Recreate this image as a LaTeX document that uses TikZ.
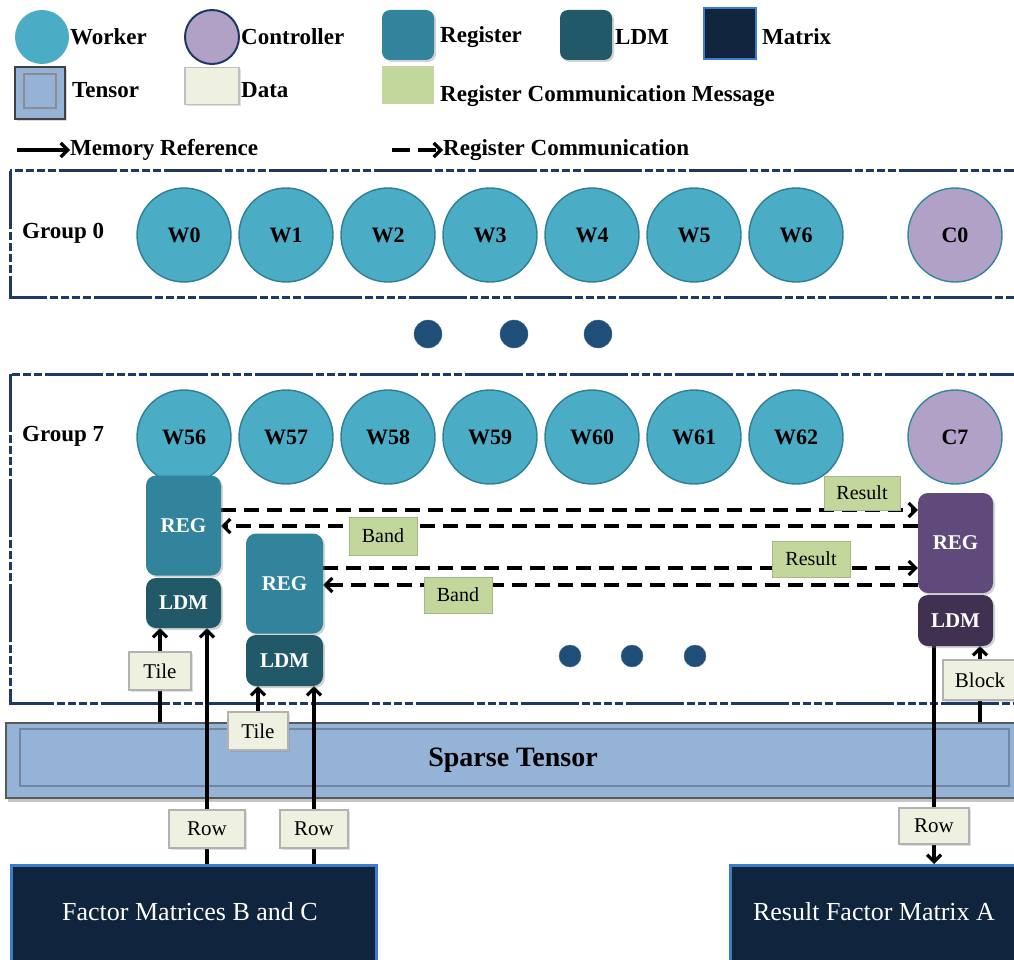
\documentclass[tikz,border=0pt]{standalone}
\usepackage{fontspec}
\setmainfont{Liberation Serif}
\usetikzlibrary{arrows.meta,shadows,backgrounds}
\newcommand\fsz[1]{\fontsize{#1}{#1}\selectfont}
\definecolor{wfill}{HTML}{4BACC6}
\definecolor{wline}{HTML}{2E7F93}
\definecolor{cfill}{HTML}{B2A1C7}
\definecolor{cline}{HTML}{31859C}
\definecolor{regc}{HTML}{31849B}
\definecolor{ldmc}{HTML}{215968}
\definecolor{pregc}{HTML}{604A7B}
\definecolor{pldmc}{HTML}{403152}
\definecolor{msgc}{HTML}{C3D69B}
\definecolor{datac}{HTML}{EEF1E0}
\definecolor{datad}{HTML}{8E9080}
\definecolor{matc}{HTML}{10243E}
\definecolor{matline}{HTML}{3D7DC8}
\definecolor{tensc}{HTML}{95B3D7}
\definecolor{grpc}{HTML}{1F3864}
\definecolor{dotc}{HTML}{1F4E79}
\pgfdeclarehorizontalshading{datash}{100bp}{color(0bp)=(datad); color(10bp)=(datac); color(94bp)=(datac); color(100bp)=(datac!85!black)}
\pgfdeclarelayer{back}
\pgfdeclarelayer{mid}
\pgfsetlayers{back,mid,main}
\tikzset{
  worker/.style={circle, fill=wfill, draw=wline, line width=1.4pt, minimum size=94pt, inner sep=0pt, font=\fsz{22}\bfseries},
  ctrl/.style={worker, fill=cfill, draw=cline},
  regbox/.style={rounded corners=10pt, fill=regc, text=white, minimum width=75pt, minimum height=100pt, inner sep=0pt, font=\fsz{21}\bfseries, drop shadow={opacity=0.35, shadow xshift=2pt, shadow yshift=-2pt}},
  ldmbox/.style={regbox, fill=ldmc, minimum height=50pt},
  msgbox/.style={fill=msgc, draw=msgc!85!black, line width=0.6pt, inner sep=0pt, font=\fsz{20}},
  databox/.style={shading=datash, draw=gray!60, line width=1.4pt, inner sep=0pt, minimum height=36pt, font=\fsz{21},
    drop shadow={opacity=0.25, shadow xshift=1.5pt, shadow yshift=-1.5pt}},
  matbox/.style={fill=matc, draw=matline, line width=2.5pt, text=white, inner sep=0pt, font=\fsz{26}},
  grpbox/.style={draw=grpc, line width=3pt, dash pattern=on 58pt off 3pt on 8pt off 3pt on 8pt off 3pt on 8pt off 3pt on 8pt off 3pt},
  lbl/.style={anchor=west, inner sep=0pt, font=\fsz{23}\bfseries},
  arr/.style={line width=3.2pt, -{Straight Barb[length=7pt,width=14pt]}},
  darr/.style={arr, dash pattern=on 15pt off 8pt},
  dot/.style={circle, fill=dotc, draw=dotc!80!white, inner sep=0pt},
}
\begin{document}
\begin{tikzpicture}[x=1pt,y=-1pt]
\useasboundingbox (0,0) rectangle (1014,960);
\clip (0,0) rectangle (1014,960);

% ---------- Legend ----------
\node[worker, minimum size=54pt, draw=none] (lw) at (42,37) {};
\node[lbl] (lwt) at (70,37) {Worker};
\node[ctrl, minimum size=54pt, draw=grpc, line width=2pt] (lc) at (212,37) {};
\node[lbl] (lct) at (241,37) {Controller};
\node[regbox, minimum width=52pt, minimum height=50pt, rounded corners=8pt] (lr) at (408,35) {};
\node[lbl] (lrt) at (440,37) {Register};
\node[ldmbox, minimum width=52pt, minimum height=50pt, rounded corners=8pt] (ll) at (586,35) {};
\node[lbl] (llt) at (615,37) {LDM};
\node[matbox, minimum width=52pt, minimum height=51pt, line width=2pt] (lm) at (730,34) {};
\node[lbl] (lmt) at (762,37) {Matrix};

\node[fill=tensc, draw=black!75, line width=1.6pt, minimum width=50pt, minimum height=52pt, inner sep=0pt, drop shadow={opacity=0.3, shadow xshift=1.5pt, shadow yshift=-2pt}] (lt) at (40,93) {};
\node[draw=black!45, line width=1.2pt, minimum width=32pt, minimum height=34pt, inner sep=0pt] (lti) at (40,91) {};
\node[lbl] (ltt) at (72,90) {Tensor};
\node[databox, minimum width=54pt, minimum height=37pt, draw=gray!50] (ld) at (212,86) {};
\node[lbl] (ldt) at (241,90) {Data};
\node[msgbox, draw=none, minimum width=52pt, minimum height=38pt] (lg) at (408,85) {};
\node[lbl] (lgt) at (440,96) {Register Communication Message};

\coordinate (ma) at (17,150);
\coordinate (mb) at (70,150);
\draw[arr] (ma) -- (mb);
\node[lbl] (mrt) at (70,150) {Memory Reference};
\coordinate (ra) at (392,150);
\coordinate (rb) at (443,150);
\draw[arr, dash pattern=on 18pt off 8pt] (ra) -- (rb);
\node[lbl] (rct) at (443,150) {Register Communication};

% ---------- Group boxes, tensor ----------
\begin{pgfonlayer}{back}
\draw[grpbox] (10,171) rectangle (1040,297);
\draw[grpbox] (10,374) rectangle (1040,703);
\node[fill=tensc, draw=black!65, line width=2pt, minimum width=1030pt, minimum height=75pt, inner sep=0pt, anchor=north west, drop shadow={opacity=0.45, shadow xshift=2pt, shadow yshift=-4pt}] (tensor) at (5,722) {};
\draw[draw=tensc!75!black, line width=1.4pt] (20,729) rectangle (1009,786);
\node[font=\fsz{28}\bfseries, inner sep=0pt] (tenst) at (513,760) {Sparse Tensor};
\end{pgfonlayer}

\node[lbl, font=\fsz{23}\bfseries] (g0) at (22,233) {Group 0};
\node[lbl, font=\fsz{23}\bfseries] (g7) at (22,436) {Group 7};

% workers group 0
\foreach \i/\x in {0/184,1/286,2/388,3/490,4/592,5/694,6/796}{
  \node[worker] (w\i) at (\x,235) {W\i};
}
\node[ctrl] (c0) at (955,235) {C0};

% dots
\node[dot, minimum size=28pt] (d1) at (428,334) {};
\node[dot, minimum size=28pt] (d2) at (514,334) {};
\node[dot, minimum size=28pt] (d3) at (598,334) {};

% workers group 7
\foreach \i/\x in {56/184,57/286,58/388,59/490,60/592,61/694,62/796}{
  \node[worker] (w\i) at (\x,437) {W\i};
}
\node[ctrl] (c7) at (955,437) {C7};

% REG / LDM
\node[regbox] (reg1) at (183.5,525.5) {REG};
\node[ldmbox] (ldm1) at (183.5,603) {LDM};
\node[regbox, minimum width=77pt] (reg2) at (284.5,583.5) {REG};
\node[ldmbox, minimum width=77pt, minimum height=51pt] (ldm2) at (284.5,660.5) {LDM};
\node[regbox, fill=pregc] (preg) at (955.5,543) {REG};
\node[ldmbox, fill=pldmc, minimum height=51pt] (pldm) at (955.5,620.5) {LDM};

\node[dot, minimum size=22pt] (e1) at (570,656) {};
\node[dot, minimum size=22pt] (e2) at (632,656) {};
\node[dot, minimum size=22pt] (e3) at (695,656) {};

% data boxes and bottom matrices
\node[databox, minimum width=62pt, minimum height=38pt] (tile1) at (160,671) {Tile};
\node[databox, minimum width=60pt, minimum height=38pt] (tile2) at (258,731) {Tile};
\node[databox, minimum width=74pt, minimum height=40pt] (block) at (980,680) {Block};
\node[databox, minimum width=76pt, minimum height=38pt] (row1) at (207,829) {Row};
\node[databox, minimum width=68pt, minimum height=38pt] (row2) at (314,829) {Row};
\node[databox, minimum width=70pt, minimum height=36pt] (row3) at (934,826) {Row};

\node[matbox, minimum width=365pt, minimum height=100pt, anchor=north west] (fac) at (10,864) {};
\node[font=\fsz{26}, text=white, inner sep=0pt] (fact) at (190,912) {Factor Matrices B and C};
\node[matbox, minimum width=300pt, minimum height=100pt, anchor=north west] (res) at (729,864) {};
\node[font=\fsz{26}, text=white, inner sep=0pt] (rest) at (874,912) {Result Factor Matrix A};

% message labels
\coordinate (l1) at (0,510);
\coordinate (l2) at (0,526);
\coordinate (l3) at (0,568);
\coordinate (l4) at (0,585);
\node[msgbox, minimum width=76pt, minimum height=34pt] (m1) at (862,493) {Result};
\node[msgbox, minimum width=68pt, minimum height=38pt] (m2) at (383,536) {Band};
\node[msgbox, minimum width=78pt, minimum height=36pt] (m3) at (811,559) {Result};
\node[msgbox, minimum width=68pt, minimum height=36pt] (m4) at (458,595) {Band};

% ---------- Connectors ----------
\begin{pgfonlayer}{mid}
\draw[darr] (reg1.east |- l1) -- (preg.west |- l1);
\draw[darr] (preg.west |- l2) -- (reg1.east |- l2);
\draw[darr] (reg2.east |- l3) -- (preg.west |- l3);
\draw[darr] (preg.west |- l4) -- (reg2.east |- l4);

\draw[arr] (tensor.north -| tile1) -- (ldm1.south -| tile1);
\draw[arr] (fac.north -| row1) -- (ldm1.south -| row1);
\draw[arr] (tile2.north) -- (ldm2.south -| tile2);
\draw[arr] (fac.north -| row2) -- (ldm2.south -| row2);
\draw[arr] (pldm.south -| row3) -- (res.north -| row3);
\draw[arr] (tensor.north -| block) -- (pldm.south -| block);
\end{pgfonlayer}
\end{tikzpicture}
\end{document}
